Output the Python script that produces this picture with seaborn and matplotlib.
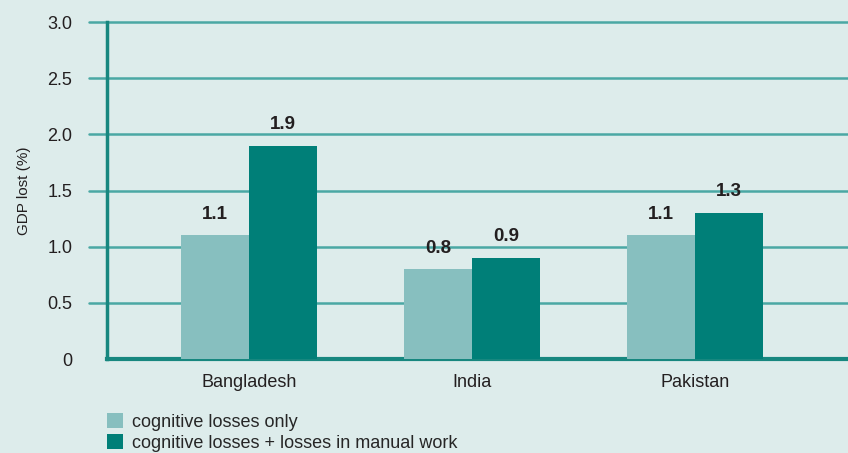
import pandas as pd
import numpy as np
import matplotlib
matplotlib.use("Agg")
import matplotlib.pyplot as plt
import seaborn as sns
from matplotlib.patches import Patch

# dati
countries = ["Bangladesh", "India", "Pakistan"]
cognitive_only = [1.1, 0.8, 1.1]
cognitive_manual = [1.9, 0.9, 1.3]
series_names = ["cognitive losses only", "cognitive losses + losses in manual work"]
yticks = [0, 0.5, 1.0, 1.5, 2.0, 2.5, 3.0]
ytick_labels = ["0", "0.5", "1.0", "1.5", "2.0", "2.5", "3.0"]

bg = "#ddeceb"
light = "#87bfbf"
dark = "#007f78"
line = "#4aa8a4"
spine = "#17877f"

df = pd.DataFrame({
    "country": countries * 2,
    "value": cognitive_only + cognitive_manual,
    "series": [series_names[0]] * 3 + [series_names[1]] * 3,
})

sns.set_style("white")
plt.rcParams["font.family"] = ["Liberation Sans Narrow", "Liberation Sans", "DejaVu Sans"]

fig = plt.figure(figsize=(8.48, 4.53), dpi=100, facecolor=bg)
ax = fig.add_axes([0.1262, 0.2075, 0.8738, 0.7439])
ax.set_facecolor(bg)

sns.barplot(data=df, x="country", y="value", hue="series", palette=[light, dark],
            width=0.61, saturation=1, ax=ax, legend=False, zorder=3, linewidth=0)

for c in ax.containers:
    ax.bar_label(c, fmt="%.1f", padding=9, fontsize=13.5, fontweight="bold", color="#231f20")

ax.set_ylim(0, 3.0)
ax.set_xlim(-0.637, 2.686)
ax.set_yticks(yticks)
ax.set_yticklabels(ytick_labels, fontsize=13, color="#231f20")
ax.tick_params(axis="y", length=0, pad=25)
ax.tick_params(axis="x", length=0, pad=11, labelsize=13, labelcolor="#231f20")
ax.set_xlabel("")
ax.set_ylabel("GDP lost (%)", fontsize=11, color="#231f20", labelpad=12)

# linee della griglia che sporgono a sinistra dell'asse
for y in yticks[1:]:
    ax.plot([-0.72, 2.686], [y, y], color=line, lw=1.8, zorder=1, clip_on=False)

for s in ["top", "right"]:
    ax.spines[s].set_visible(False)
ax.spines["left"].set_color(spine)
ax.spines["left"].set_linewidth(2.5)
ax.spines["bottom"].set_color(spine)
ax.spines["bottom"].set_linewidth(3)
ax.spines["left"].set_zorder(4)

handles = [Patch(facecolor=light, edgecolor="none", label=series_names[0]),
           Patch(facecolor=dark, edgecolor="none", label=series_names[1])]
fig.legend(handles=handles, loc="upper left", bbox_to_anchor=(0.118, 0.104),
           frameon=False, fontsize=13, handlelength=0.85, handleheight=0.85,
           handletextpad=0.5, labelspacing=0.2, borderaxespad=0)

fig.savefig("out.png", dpi=100, facecolor=bg)
